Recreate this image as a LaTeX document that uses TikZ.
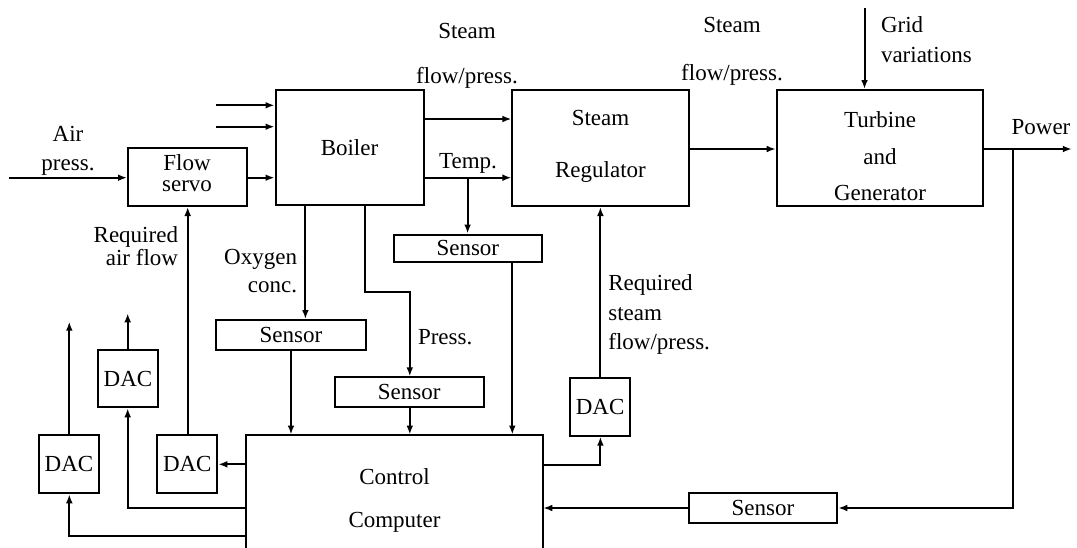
\documentclass[tikz,border=0pt]{standalone}
\usepackage{fontspec}
\setmainfont{Liberation Serif}
\usetikzlibrary{arrows.meta,fit}
\begin{document}
\begin{tikzpicture}[x=0.5pt,y=-0.5pt,
  line width=1pt,
  every node/.style={font=\fontsize{11.5pt}{13pt}\selectfont},
  box/.style={draw, inner sep=0pt, line width=1pt},
  inlabel/.style={label={[inner sep=0pt]center:#1}},
  arr/.style={-{Latex[length=4.5pt,width=3.4pt]}},
  txt/.style={font=\fontsize{11.5pt}{#1}\selectfont, inner sep=0pt, align=center},
  txt/.default=13pt
]
\useasboundingbox (0,0) rectangle (1077,547);

% boxes
\node[box, fit={(128,148.3) (246.5,206)}] (flowservo) {};
\node[box, fit={(275.5,90) (423.5,205)}, label={[inner sep=0pt, name=boiler-t]center:Boiler}] (boiler) {};
\node[box, fit={(512.4,90) (688.5,206)}] (sr) {};
\node[box, fit={(776.7,90) (983.3,206)}] (turbine) {};
\node[box, fit={(394,234.5) (541.7,261.7)}, label={[inner sep=0pt, name=stemp-t]center:Sensor}] (stemp) {};
\node[box, fit={(216,320) (366,350)}, label={[inner sep=0pt, name=sox-t]center:Sensor}] (sox) {};
\node[box, fit={(334.7,377.3) (483.8,407.3)}, label={[inner sep=0pt, name=spress-t]center:Sensor}] (spress) {};
\node[box, fit={(98,350) (158,407.3)}, label={[inner sep=0pt, name=dacmid-t]center:DAC}] (dacmid) {};
\node[box, fit={(39,435) (99,493.3)}, label={[inner sep=0pt, name=dacleft-t]center:DAC}] (dacleft) {};
\node[box, fit={(157.3,435) (217.3,493.3)}, label={[inner sep=0pt, name=dacnear-t]center:DAC}] (dacnear) {};
\node[box, fit={(570,378.3) (630.3,435.7)}, label={[inner sep=0pt, name=dacsteam-t]center:DAC}] (dacsteam) {};
\node[box, fit={(688.5,493.3) (837.3,523.3)}, label={[inner sep=0pt, name=spower-t]center:Sensor}] (spower) {};
\node[inner sep=0pt, fit={(247.3,435.5) (542.3,547)}] (computer) {};
\draw (computer.south west) -- (computer.north west) -- (computer.north east) -- (computer.south east);

% box texts
\node[txt=10.5pt] (flowservo-t) at (187,173.5) {Flow\\servo};
\node[txt=26pt] (sr-t) at (600.5,146) {Steam\\Regulator};
\node[txt=18.25pt] (turbine-t) at (880,156.5) {Turbine\\and\\Generator};
\node[txt=21.2pt] (computer-t) at (394.5,500.5) {Control\\Computer};

% air input
\coordinate (airin) at (9.3,177.7);
\draw[arr] (airin) -- (flowservo.west |- airin);
\node[txt=14.2pt] (airlbl) at (68,151) {Air\\press.};

% boiler inputs
\coordinate (in1) at (216,105.3);
\coordinate (in2) at (216,126.7);
\draw[arr] (in1) -- (boiler.west |- in1);
\draw[arr] (in2) -- (boiler.west |- in2);
\draw[arr] (flowservo.east |- airin) -- (boiler.west |- airin);

% boiler to steam regulator
\coordinate (ysteam) at (0,119);
\coordinate (ytemp) at (0,177.7);
\draw[arr] (boiler.east |- ysteam) -- (sr.west |- ysteam);
\draw[arr] (boiler.east |- ytemp) -- (sr.west |- ytemp);
\node[txt=22.5pt] (steamlbl1) at (467,55.5) {Steam\\flow/press.};
\node[txt] (templbl) at (468,163) {Temp.};
\coordinate (tbranch) at (467.6,177.7);
\draw[arr] (tbranch) -- (stemp.north -| tbranch);
\coordinate (xtemp) at (512.3,0);
\draw[arr] (stemp.south -| xtemp) -- (computer.north -| xtemp);

% oxygen
\coordinate (xox) at (305.4,0);
\draw[arr] (boiler.south -| xox) -- (sox.north -| xox);
\coordinate (xoxo) at (291,0);
\draw[arr] (sox.south -| xoxo) -- (computer.north -| xoxo);
\node[txt=14pt, align=right, anchor=east] (oxlbl) at (298,271) {Oxygen\\conc.};

% pressure
\coordinate (xp1) at (365,0);
\coordinate (pbend) at (365,291.7);
\coordinate (xp2) at (409.8,0);
\draw[arr] (boiler.south -| xp1) -- (pbend) -| (spress.north -| xp2);
\draw[arr] (spress.south -| xp2) -- (computer.north -| xp2);
\node[txt, anchor=west] (presslbl) at (417,336.7) {Press.};

% steam DAC
\coordinate (ycd) at (0,464.5);
\coordinate (xds) at (600.4,0);
\draw[arr] (computer.east |- ycd) -| (dacsteam.south -| xds);
\draw[arr] (dacsteam.north -| xds) -- (sr.south -| xds);
\node[txt=14.75pt, align=left, anchor=west] (reqsteam) at (607.4,314.5) {Required\\steam\\flow/press.};

% regulator to turbine
\coordinate (yst) at (0,149);
\draw[arr] (sr.east |- yst) -- (turbine.west |- yst);
\node[txt=24pt] (steamlbl2) at (732,51) {Steam\\flow/press.};

% grid
\coordinate (gridin) at (864.5,8);
\draw[arr] (gridin) -- (turbine.north -| gridin);
\node[txt=15pt, align=left, anchor=west] (gridlbl) at (880,40) {Grid\\variations};

% power
\coordinate (powout) at (1071.8,149);
\draw[arr] (turbine.east |- powout) -- (powout);
\node[txt] (powlbl) at (1041,126.7) {Power};
\coordinate (ptap) at (1012.7,149);
\coordinate (yps) at (0,508);
\draw[arr] (ptap) |- (spower.east |- yps);
\draw[arr] (spower.west |- yps) -- (computer.east |- yps);

% left side DACs
\coordinate (ycn) at (0,464.3);
\draw[arr] (computer.west |- ycn) -- (dacnear.east |- ycn);
\coordinate (xra) at (187.7,0);
\draw[arr] (dacnear.north -| xra) -- (flowservo.south -| xra);
\node[txt=10.5pt, align=right, anchor=east] (reqair) at (179,246.3) {Required\\air flow};

\coordinate (ymid) at (0,507.7);
\coordinate (xmid) at (127.7,0);
\draw[arr] (computer.west |- ymid) -| (dacmid.south -| xmid);
\coordinate (midout) at (127.7,313.3);
\draw[arr] (dacmid.north -| xmid) -- (midout);

\coordinate (yleft) at (0,536);
\coordinate (xleft) at (69.3,0);
\draw[arr] (computer.west |- yleft) -| (dacleft.south -| xleft);
\coordinate (leftout) at (69.3,321.7);
\draw[arr] (dacleft.north -| xleft) -- (leftout);
\end{tikzpicture}
\end{document}
